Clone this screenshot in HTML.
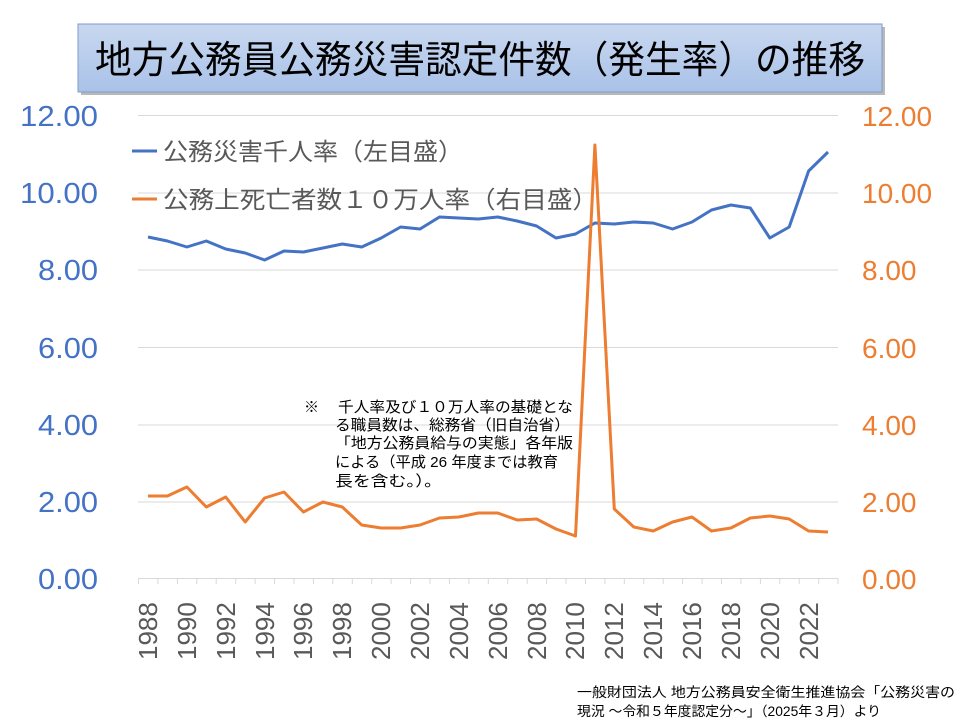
<!DOCTYPE html>
<html><head><meta charset="utf-8"><style>
html,body{margin:0;padding:0;background:#fff;}
svg{display:block;}
text{font-family:"Liberation Sans","Noto Sans CJK JP",sans-serif;}
</style></head><body>
<svg width="960" height="720" viewBox="0 0 960 720" xmlns="http://www.w3.org/2000/svg">
<defs>
<linearGradient id="tg" x1="0" y1="0" x2="0" y2="1">
<stop offset="0" stop-color="#c9d8f0"/><stop offset="1" stop-color="#a9c2e8"/>
</linearGradient>
</defs>
<!-- title -->
<rect x="81" y="27" width="804" height="68" fill="#8a8a8a" opacity="0.6"/>
<rect x="78" y="24" width="804" height="68" fill="url(#tg)" stroke="#7f9cc8" stroke-width="1"/>
<text x="480" y="73" text-anchor="middle" font-size="38" fill="#000" textLength="770" lengthAdjust="spacingAndGlyphs">地方公務員公務災害認定件数（発生率）の推移</text>

<!-- gridlines -->
<g stroke="#d9d9d9" stroke-width="1">
<line x1="138" y1="115.5" x2="838" y2="115.5"/>
<line x1="138" y1="193" x2="838" y2="193"/>
<line x1="138" y1="270" x2="838" y2="270"/>
<line x1="138" y1="347.5" x2="838" y2="347.5"/>
<line x1="138" y1="425" x2="838" y2="425"/>
<line x1="138" y1="502" x2="838" y2="502"/>
<line x1="138" y1="578.5" x2="838" y2="578.5"/>
</g>
<g stroke="#d9d9d9" stroke-width="1">
<line x1="138.5" y1="578" x2="138.5" y2="584"/>
<line x1="157.9" y1="578" x2="157.9" y2="584"/><line x1="177.4" y1="578" x2="177.4" y2="584"/><line x1="196.8" y1="578" x2="196.8" y2="584"/><line x1="216.2" y1="578" x2="216.2" y2="584"/><line x1="235.7" y1="578" x2="235.7" y2="584"/><line x1="255.1" y1="578" x2="255.1" y2="584"/><line x1="274.5" y1="578" x2="274.5" y2="584"/><line x1="294" y1="578" x2="294" y2="584"/><line x1="313.4" y1="578" x2="313.4" y2="584"/><line x1="332.8" y1="578" x2="332.8" y2="584"/><line x1="352.3" y1="578" x2="352.3" y2="584"/><line x1="371.7" y1="578" x2="371.7" y2="584"/><line x1="391.1" y1="578" x2="391.1" y2="584"/><line x1="410.6" y1="578" x2="410.6" y2="584"/><line x1="430" y1="578" x2="430" y2="584"/><line x1="449.4" y1="578" x2="449.4" y2="584"/><line x1="468.9" y1="578" x2="468.9" y2="584"/><line x1="488.3" y1="578" x2="488.3" y2="584"/><line x1="507.7" y1="578" x2="507.7" y2="584"/><line x1="527.2" y1="578" x2="527.2" y2="584"/><line x1="546.6" y1="578" x2="546.6" y2="584"/><line x1="566" y1="578" x2="566" y2="584"/><line x1="585.5" y1="578" x2="585.5" y2="584"/><line x1="604.9" y1="578" x2="604.9" y2="584"/><line x1="624.3" y1="578" x2="624.3" y2="584"/><line x1="643.8" y1="578" x2="643.8" y2="584"/><line x1="663.2" y1="578" x2="663.2" y2="584"/><line x1="682.6" y1="578" x2="682.6" y2="584"/><line x1="702.1" y1="578" x2="702.1" y2="584"/><line x1="721.5" y1="578" x2="721.5" y2="584"/><line x1="740.9" y1="578" x2="740.9" y2="584"/><line x1="760.4" y1="578" x2="760.4" y2="584"/><line x1="779.8" y1="578" x2="779.8" y2="584"/><line x1="799.2" y1="578" x2="799.2" y2="584"/><line x1="818.7" y1="578" x2="818.7" y2="584"/><line x1="838" y1="578" x2="838" y2="584"/>
</g>

<!-- left axis -->
<g fill="#4472C4" font-size="29" text-anchor="end">
<text x="98" y="126" textLength="78" lengthAdjust="spacingAndGlyphs">12.00</text>
<text x="98" y="203" textLength="78" lengthAdjust="spacingAndGlyphs">10.00</text>
<text x="98" y="280" textLength="60" lengthAdjust="spacingAndGlyphs">8.00</text>
<text x="98" y="358" textLength="60" lengthAdjust="spacingAndGlyphs">6.00</text>
<text x="98" y="435" textLength="60" lengthAdjust="spacingAndGlyphs">4.00</text>
<text x="98" y="512" textLength="60" lengthAdjust="spacingAndGlyphs">2.00</text>
<text x="98" y="589" textLength="60" lengthAdjust="spacingAndGlyphs">0.00</text>
</g>
<!-- right axis -->
<g fill="#ED7D31" font-size="28" text-anchor="start">
<text x="862" y="126">12.00</text>
<text x="862" y="203">10.00</text>
<text x="862" y="280">8.00</text>
<text x="862" y="358">6.00</text>
<text x="862" y="435">4.00</text>
<text x="862" y="512">2.00</text>
<text x="862" y="589">0.00</text>
</g>

<!-- x labels -->
<g fill="#595959" font-size="26">
<text transform="translate(157,660) rotate(-90)">1988</text>
<text transform="translate(196,660) rotate(-90)">1990</text>
<text transform="translate(235,660) rotate(-90)">1992</text>
<text transform="translate(274,660) rotate(-90)">1994</text>
<text transform="translate(312,660) rotate(-90)">1996</text>
<text transform="translate(351,660) rotate(-90)">1998</text>
<text transform="translate(390,660) rotate(-90)">2000</text>
<text transform="translate(429,660) rotate(-90)">2002</text>
<text transform="translate(468,660) rotate(-90)">2004</text>
<text transform="translate(507,660) rotate(-90)">2006</text>
<text transform="translate(546,660) rotate(-90)">2008</text>
<text transform="translate(584,660) rotate(-90)">2010</text>
<text transform="translate(623,660) rotate(-90)">2012</text>
<text transform="translate(662,660) rotate(-90)">2014</text>
<text transform="translate(701,660) rotate(-90)">2016</text>
<text transform="translate(740,660) rotate(-90)">2018</text>
<text transform="translate(779,660) rotate(-90)">2020</text>
<text transform="translate(818,660) rotate(-90)">2022</text>
</g>

<!-- legend -->
<line x1="132" y1="151" x2="157" y2="151" stroke="#4472C4" stroke-width="3"/>
<text x="163" y="160" font-size="24" fill="#595959" textLength="300" lengthAdjust="spacingAndGlyphs">公務災害千人率（左目盛）</text>
<line x1="132" y1="199" x2="157" y2="199" stroke="#ED7D31" stroke-width="3"/>
<text x="163" y="208" font-size="24" fill="#595959" textLength="435" lengthAdjust="spacingAndGlyphs">公務上死亡者数１０万人率（右目盛）</text>

<!-- note -->
<g font-size="15" fill="#000">
<text x="304" y="412">※</text>
<text x="338" y="412" textLength="235" lengthAdjust="spacingAndGlyphs">千人率及び１０万人率の基礎とな</text>
<text x="335" y="430" textLength="235" lengthAdjust="spacingAndGlyphs">る職員数は、総務省（旧自治省）</text>
<text x="335" y="448" textLength="238" lengthAdjust="spacingAndGlyphs">「地方公務員給与の実態」各年版</text>
<text x="335" y="467" textLength="223" lengthAdjust="spacingAndGlyphs">による（平成 26 年度までは教育</text>
<text x="335" y="486" textLength="107" lengthAdjust="spacingAndGlyphs">長を含む。）。</text>
</g>

<!-- series -->
<polyline fill="none" stroke="#4472C4" stroke-width="3" stroke-linejoin="round" points="148,237 167.4,241 186.9,247 206.3,241 225.7,249 245.2,253 264.6,260 284,251 303.4,252 322.9,248 342.3,244 361.7,247 381.2,238 400.6,227 420,229 439.5,217 458.9,218 478.3,219 497.7,217 517.2,221 536.6,226 556,238 575.5,234 594.9,223 614.3,224 633.8,222 653.2,223 672.6,229 692,222 711.5,210 730.9,205 750.3,208 769.8,238 789.2,227 808.6,171 828,152"/>
<polyline fill="none" stroke="#ED7D31" stroke-width="3" stroke-linejoin="round" points="148,496 167.4,496 186.9,487 206.3,507 225.7,497 245.2,522 264.6,498 284,492 303.4,512 322.9,502 342.3,507 361.7,525 381.2,528 400.6,528 420,525 439.5,518 458.9,517 478.3,513 497.7,513 517.2,520 536.6,519 556,529 575.5,536 594.9,145 614.3,509 633.8,527 653.2,531 672.6,522 692,517 711.5,531 730.9,528 750.3,518 769.8,516 789.2,519 808.6,531 828,532"/>

<!-- footer -->
<g font-size="13.5" fill="#000">
<text x="577" y="697" textLength="378" lengthAdjust="spacingAndGlyphs">一般財団法人 地方公務員安全衛生推進協会「公務災害の</text>
<text x="577" y="716" textLength="304" lengthAdjust="spacingAndGlyphs">現況 ～令和５年度認定分～」（2025年３月）より</text>
</g>
</svg>
</body></html>
